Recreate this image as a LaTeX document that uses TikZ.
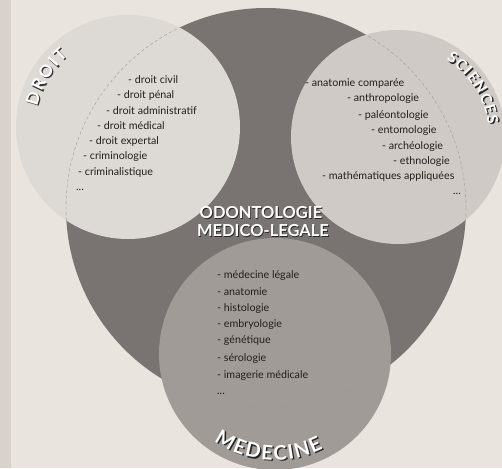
\documentclass[tikz,border=0pt]{standalone}
\usepackage{fontspec}
\setmainfont{Lato}
\usetikzlibrary{decorations.text,calc}

\definecolor{paper}{RGB}{233,228,221}
\definecolor{pageedge}{RGB}{216,210,202}
\definecolor{odonto}{RGB}{121,116,113}
\definecolor{droitfill}{RGB}{221,217,213}
\definecolor{sciencesfill}{RGB}{207,202,197}
\definecolor{medecinefill}{RGB}{160,155,151}
\definecolor{ink}{RGB}{35,31,30}

\begin{document}
\begin{tikzpicture}[x=1pt,y=1pt,
  item/.style={anchor=base west,inner sep=0pt,text=ink,font=\fontsize{10.7}{12}\selectfont},
  title/.style={anchor=base,inner sep=0pt,text=#1,font=\bfseries\fontsize{16.5}{18}\selectfont},
  seam/.style={draw=black!40,dash pattern=on 3pt off 2.5pt,line width=0.4pt},
  rim/.style n args={3}{decorate,decoration={text along path,text align=fit to path,
      text={|\color{#1}\bfseries\fontsize{#2}{#2}\selectfont|#3}}}]
  \useasboundingbox[fill=paper] (0,0) rectangle (502,-468);
  \fill[pageedge] (0,0) rectangle (11,-468);

  \coordinate (odonto) at (266,-208);
  \coordinate (droit) at (128,-127);
  \coordinate (sciences) at (398,-137);
  \coordinate (medecine) at (275,-354);

  \fill[odonto] (odonto) circle[radius=200pt];
  \fill[droitfill] (droit) circle[radius=112pt];
  \fill[sciencesfill] (sciences) circle[radius=107pt];
  \fill[medecinefill] (medecine) circle[radius=116pt];

  \begin{scope}
    \clip (droit) circle[radius=112pt];
    \draw[seam] (odonto) circle[radius=200pt];
  \end{scope}
  \begin{scope}
    \clip (sciences) circle[radius=107pt];
    \draw[seam] (odonto) circle[radius=200pt];
  \end{scope}
  \begin{scope}
    \clip (medecine) circle[radius=116pt];
    \draw[seam] (odonto) circle[radius=200pt];
  \end{scope}

  \path[rim={black!80}{17}{DROIT}] ($(droit)+(167:93pt)+(1.3,-1.3)$) arc[start angle=167,end angle=130,radius=93pt];
  \path[rim={white}{17}{DROIT}] ($(droit)+(167:93pt)$) arc[start angle=167,end angle=130,radius=93pt];
  \path[rim={black!85}{15}{SCIENCES}] ($(sciences)+(58:91pt)+(1.3,-1.3)$) arc[start angle=58,end angle=8,radius=91pt];
  \path[rim={white}{15}{SCIENCES}] ($(sciences)+(58:91pt)$) arc[start angle=58,end angle=8,radius=91pt];
  \path[rim={black!85}{20}{MEDECINE}] ($(medecine)+(235:106pt)+(1.5,-1.5)$) arc[start angle=235,end angle=297,radius=106pt];
  \path[rim={white}{20}{MEDECINE}] ($(medecine)+(235:106pt)$) arc[start angle=235,end angle=297,radius=106pt];

  \node[title=black!85] (t1s) at (261.8,-219) {ODONTOLOGIE};
  \node[title=black!85] (t2s) at (263.8,-237) {MEDICO-LEGALE};
  \node[title=white] (t1) at (261,-218) {ODONTOLOGIE};
  \node[title=white] (t2) at (263,-236) {MEDICO-LEGALE};

  \node[item] (d1) at (128,-84) {- droit civil};
  \node[item] (d2) at (117,-99) {- droit pénal};
  \node[item] (d3) at (106,-114) {- droit administratif};
  \node[item] (d4) at (97,-129) {- droit médical};
  \node[item] (d5) at (89,-144) {- droit expertal};
  \node[item] (d6) at (83,-159) {- criminologie};
  \node[item] (d7) at (78,-175) {- criminalistique};
  \node[item] (d8) at (76,-190) {...};

  \node[item] (s1) at (305,-87) {- anatomie comparée};
  \node[item] (s2) at (347,-102) {- anthropologie};
  \node[item] (s3) at (358,-118) {- paléontologie};
  \node[item] (s4) at (371,-133) {- entomologie};
  \node[item] (s5) at (382,-149) {- archéologie};
  \node[item] (s6) at (393,-164) {- ethnologie};
  \node[item] (s7) at (322,-179) {- mathématiques appliquées};
  \node[item] (s8) at (453,-194) {...};

  \node[item] (m1) at (217,-278) {- médecine légale};
  \node[item] (m2) at (217,-295) {- anatomie};
  \node[item] (m3) at (217,-311) {- histologie};
  \node[item] (m4) at (217,-327) {- embryologie};
  \node[item] (m5) at (217,-343) {- génétique};
  \node[item] (m6) at (217,-361) {- sérologie};
  \node[item] (m7) at (217,-378) {- imagerie médicale};
  \node[item] (m8) at (217,-394) {...};
\end{tikzpicture}
\end{document}
